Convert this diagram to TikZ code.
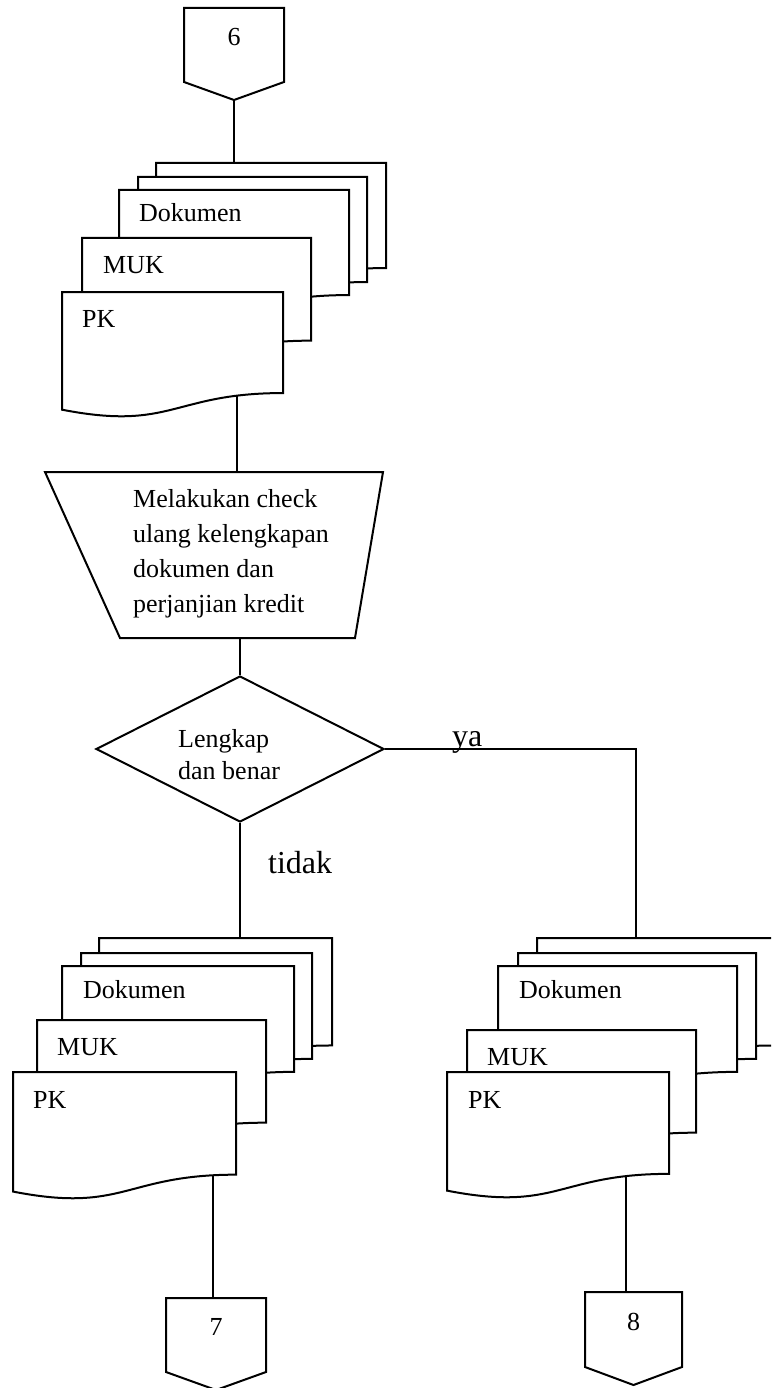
\documentclass[tikz,border=0pt]{standalone}
\usepackage{fontspec}
\setmainfont{Liberation Serif}
\usetikzlibrary{calc,shapes.geometric,backgrounds}

\tikzset{
  flow/.style={line width=2pt, line join=miter},
  sheetpaper/.style={flow, fill=white, draw=black},
  sheetbox/.style={draw=none, inner sep=0pt, outer sep=0pt, anchor=north west},
  sheetlabel/.style={anchor=base west, inner sep=0pt, font=\fontsize{26}{32}\selectfont},
  offbox/.style={sheetbox, text height=17.6pt, text depth=16pt, font=\fontsize{26}{32}\selectfont},
  decision/.style={diamond, draw, flow, inner sep=0pt, minimum width=288pt, minimum height=146pt},
  blocktext/.style={anchor=north west, inner sep=0pt, align=left},
  branch/.style={anchor=base west, inner sep=0pt, font=\fontsize{32}{38}\selectfont},
  link/.style={flow},
}

% document sheet: name, x, y, width, height (wavy lower edge)
\newcommand\sheet[5]{%
  \node[sheetbox, minimum width=#4pt, minimum height=#5pt] (#1) at (#2,#3) {};
  \filldraw[sheetpaper] (#1.north west) -- (#1.north east)
    -- ($(#1.north east)!0.802!(#1.south east)$)
    .. controls ($(#1.north)!0.802!(#1.south)$) and ($(#1.north)!1.105!(#1.south)$)
    .. ($(#1.north west)!0.934!(#1.south west)$) -- cycle;
}

% off-page connector: name, x, y, width, height, text
\newcommand\offpage[6]{%
  \node[offbox, minimum width=#4pt, minimum height=#5pt] (#1) at (#2,#3) {#6};
  \coordinate (#1-tip) at ($(#1.south)+(0,18)$);
  \draw[flow] (#1.north west) -- (#1.north east) -- (#1.south east)
    -- (#1-tip) -- (#1.south west) -- cycle;
}

\begin{document}
\begin{tikzpicture}[x=1pt, y=-1pt]
\useasboundingbox (0,0) rectangle (771,1388);
\clip (0,0) rectangle (771,1388);

% connector 6
\offpage{c6}{184}{8}{100}{74}{6}

% first stack of documents
\sheet{td5}{156}{163}{230}{131}
\sheet{td4}{138}{177}{229}{131}
\sheet{td3}{119}{190}{230}{131}
\node[sheetlabel] (td3-t) at ($(td3.north west)+(20,32)$) {Dokumen};
\sheet{td2}{82}{238}{229}{128}
\node[sheetlabel] (td2-t) at ($(td2.north west)+(21,35)$) {MUK};
\sheet{td1}{62}{292}{221}{126}
\node[sheetlabel] (td1-t) at ($(td1.north west)+(20,35)$) {PK};

% manual operation
\coordinate (op-nw) at (45,472);
\coordinate (op-ne) at (383,472);
\coordinate (op-se) at (355,638);
\coordinate (op-sw) at (120,638);
\coordinate (opTop) at (237,472);
\coordinate (opBot) at (240,638);
\draw[flow] (op-nw) -- (op-ne) -- (op-se) -- (op-sw) -- cycle;
\node[blocktext, font=\fontsize{26}{35}\selectfont] (op-t) at (133,489)
  {Melakukan check\\ulang kelengkapan\\dokumen dan\\perjanjian kredit};

% decision
\node[decision] (dec) at (240,749) {};
\node[blocktext, font=\fontsize{26}{32}\selectfont] (dec-t) at (178,729)
  {Lengkap\\dan benar};

\node[branch] (ya) at (452,746) {ya};
\node[branch] (tidak) at (268,873) {tidak};

% stack on the "tidak" branch
\sheet{ld5}{99}{938}{233}{134}
\sheet{ld4}{81}{953}{231}{132}
\sheet{ld3}{62}{966}{232}{132}
\node[sheetlabel] (ld3-t) at ($(ld3.north west)+(21,32)$) {Dokumen};
\sheet{ld2}{37}{1020}{229}{128}
\node[sheetlabel] (ld2-t) at ($(ld2.north west)+(20,35)$) {MUK};
\sheet{ld1}{13}{1072}{223}{128}
\node[sheetlabel] (ld1-t) at ($(ld1.north west)+(20,36)$) {PK};

% stack on the "ya" branch
\sheet{rd5}{537}{938}{238}{134}
\sheet{rd4}{518}{953}{238}{132}
\sheet{rd3}{498}{966}{239}{132}
\node[sheetlabel] (rd3-t) at ($(rd3.north west)+(21,32)$) {Dokumen};
\sheet{rd2}{467}{1030}{229}{128}
\node[sheetlabel] (rd2-t) at ($(rd2.north west)+(20,35)$) {MUK};
\sheet{rd1}{447}{1072}{222}{127}
\node[sheetlabel] (rd1-t) at ($(rd1.north west)+(21,36)$) {PK};

% connectors 7 and 8
\offpage{c7}{166}{1298}{100}{74}{7}
\offpage{c8}{585}{1292}{97}{75}{8}

\coordinate (yaDrop) at ($(rd5.north west)+(99,0)$);
\coordinate (c7link) at ($(c7.north)+(-3,0)$);
\coordinate (c8link) at ($(c8.north)+(-8,0)$);

\begin{pgfonlayer}{background}
  \draw[link] (c6-tip) -- (c6-tip |- td5.north);
  \draw[link] (opTop) -- (opTop |- td1.center);
  \draw[link] (dec.north) -- (dec.north |- opBot);
  \draw[link] (dec.south) -- (dec.south |- ld5.north);
  \draw[link] (dec.east) -| (yaDrop);
  \draw[link] (c7link) -- (c7link |- ld1.center);
  \draw[link] (c8link) -- (c8link |- rd1.center);
\end{pgfonlayer}
\end{tikzpicture}
\end{document}
